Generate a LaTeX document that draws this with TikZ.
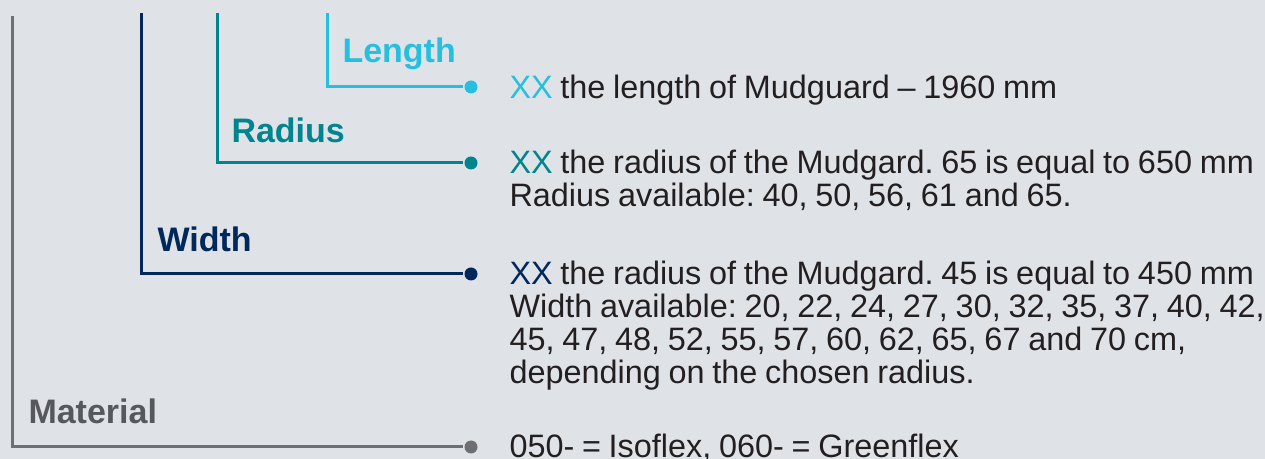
\documentclass[tikz,border=0pt]{standalone}
\usepackage{fontspec}
\setmainfont{Liberation Sans}[WordSpace=0.86]
\usetikzlibrary{positioning}
\definecolor{bggray}{HTML}{DFE3E7}
\definecolor{matgray}{HTML}{6E6F72}
\definecolor{matlabel}{HTML}{56585C}
\definecolor{widthblue}{HTML}{00285A}
\definecolor{radiusteal}{HTML}{00858F}
\definecolor{lengthcyan}{HTML}{27BFE0}
\definecolor{bodytext}{HTML}{231F20}
\frenchspacing
\tikzset{every picture/.style={line width=1.5pt}}
\tikzset{
  dot/.style={circle, fill=#1, inner sep=0pt, minimum size=6.5pt},
  tag/.style={anchor=base west, inner sep=0pt, text=#1, font=\fontsize{17}{20}\selectfont\bfseries},
  desc/.style={anchor=base west, inner sep=0pt, text=bodytext, align=left, font=\fontsize{16.2}{16.5}\selectfont},
}

\begin{document}
\begin{tikzpicture}[x=0.5pt, y=-0.5pt]
  \fill[bggray] (0,0) rectangle (1265,459);
  \useasboundingbox (0,0) rectangle (1265,459);
  \coordinate (ltop) at (327,13);
  \coordinate (rtop) at (217,13);
  \coordinate (wtop) at (141,13);
  \coordinate (mtop) at (12,16);
  \node[dot=lengthcyan] (ldot) at (471,87) {};
  \node[dot=radiusteal] (rdot) at (471,163) {};
  \node[dot=widthblue] (wdot) at (471,274) {};
  \node[dot=matgray] (mdot) at (471,447) {};
  \foreach \a/\b/\c in {ltop/ldot/lengthcyan,rtop/rdot/radiusteal,wtop/wdot/widthblue,mtop/mdot/matgray}{
    \draw[\c] (\a) |- (\b);
  }
  \node[tag=lengthcyan] (length) at (341,63) {Length};
  \node[tag=radiusteal] (radius) at (230,143) {Radius};
  \node[tag=widthblue] (width) at (156,252) {Width};
  \node[tag=matlabel] (material) at (27,424) {Material};
  % base of a multi-line node is its last line
  \node[desc] (ldesc) at (508,99) {\textcolor{lengthcyan}{XX} the length of Mudguard – 1960 mm};
  \node[desc] (rdesc) at (508,207) {\textcolor{radiusteal}{XX} the radius of the Mudgard. 65 is equal to 650 mm\\
    Radius available: 40, 50, 56, 61 and 65.};
  \node[desc] (wdesc) at (508,384) {\textcolor{widthblue}{XX} the radius of the Mudgard. 45 is equal to 450 mm\\
    Width available: 20, 22, 24, 27, 30, 32, 35, 37, 40, 42,\\
    45, 47, 48, 52, 55, 57, 60, 62, 65, 67 and 70 cm,\\
    depending on the chosen radius.};
  \node[desc] (mdesc) at (508,458) {050- = Isoflex, 060- = Greenflex};
\end{tikzpicture}
\end{document}
